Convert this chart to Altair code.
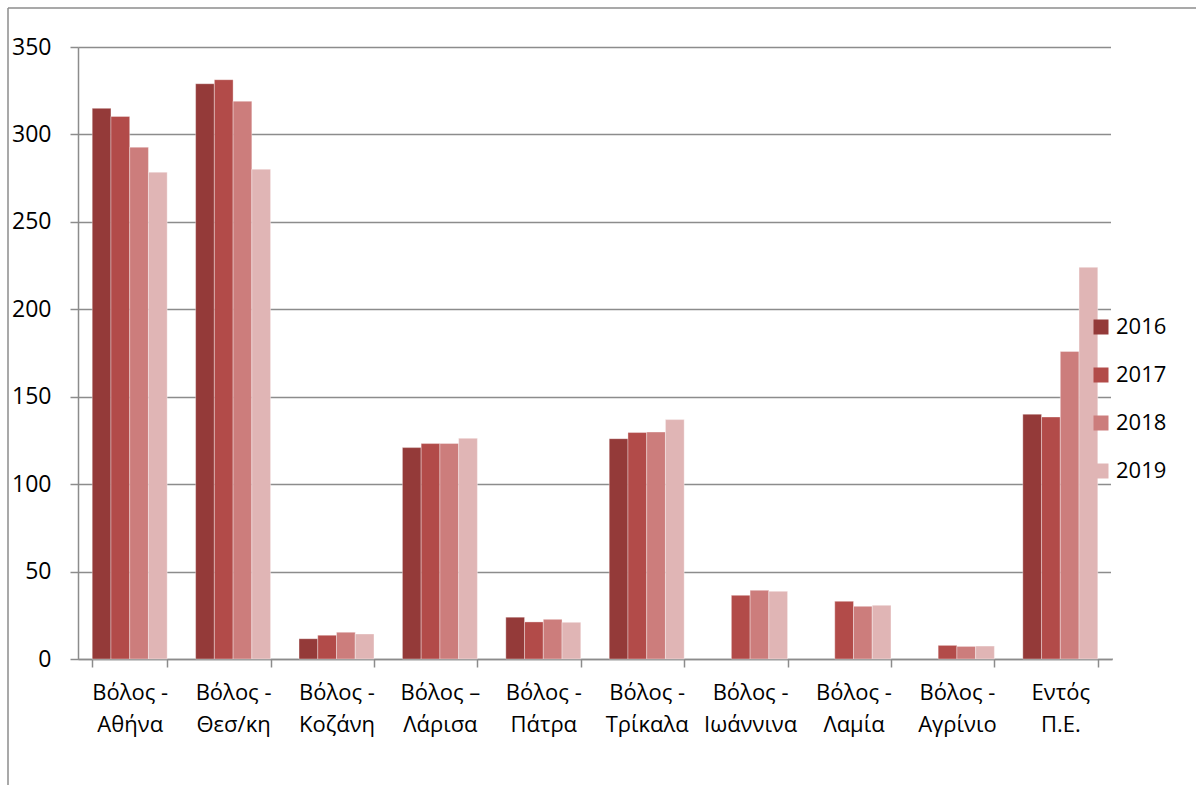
import altair as alt
import pandas as pd

categories = ["Βόλος -|Αθήνα", "Βόλος -|Θεσ/κη", "Βόλος -|Κοζάνη", "Βόλος –|Λάρισα",
              "Βόλος -|Πάτρα", "Βόλος -|Τρίκαλα", "Βόλος -|Ιωάννινα", "Βόλος -|Λαμία",
              "Βόλος -|Αγρίνιο", "Εντός|Π.Ε."]
years = ["2016", "2017", "2018", "2019"]
v2016 = [314.9, 329.0, 11.6, 120.9, 23.9, 126.0, None, None, None, 140.0]
v2017 = [310.3, 331.3, 13.6, 123.2, 21.2, 129.5, 36.4, 33.0, 7.8, 138.4]
v2018 = [292.7, 319.0, 15.3, 123.3, 22.7, 129.8, 39.3, 30.1, 7.2, 175.9]
v2019 = [278.4, 280.1, 14.3, 126.2, 21.0, 136.9, 38.7, 30.7, 7.4, 224.0]
colors = ["#943A39", "#B24B49", "#CC7D7C", "#E0B5B5"]
y_ticks = [0, 50, 100, 150, 200, 250, 300, 350]

rows = []
for yr, vals in zip(years, [v2016, v2017, v2018, v2019]):
    for c, v in zip(categories, vals):
        if v is not None:
            rows.append({"cat": c, "year": yr, "value": v})
df = pd.DataFrame(rows)

FONT = "Open Sans"

bars = alt.Chart(df).mark_bar(stroke="#ffffff", strokeWidth=0.6, strokeOpacity=0.6).encode(
    x=alt.X("cat:N", sort=categories, title=None,
            scale=alt.Scale(paddingInner=0.275, paddingOuter=0.1375),
            axis=alt.Axis(labelAngle=0, labelExpr="split(datum.label, '|')",
                          tickBand="extent", tickSize=8, tickColor="#8c8c8c", tickWidth=1.5,
                          domainColor="#8c8c8c", domainWidth=1.5,
                          labelFontSize=22, labelFont=FONT, labelColor="#000000",
                          labelPadding=15, labelLineHeight=32, labelBaseline="top",
                          grid=False)),
    xOffset=alt.XOffset("year:N", sort=years, scale=alt.Scale(paddingInner=0, paddingOuter=0)),
    y=alt.Y("value:Q", title=None,
            scale=alt.Scale(domain=[0, 350], nice=False),
            axis=alt.Axis(values=y_ticks, tickSize=8, tickColor="#8c8c8c", tickWidth=1.5,
                          domainColor="#8c8c8c", domainWidth=1.5,
                          gridColor="#8c8c8c", gridWidth=1.5,
                          labelFontSize=23, labelFont=FONT, labelColor="#000000",
                          labelPadding=19)),
    color=alt.Color("year:N", sort=years, title=None,
                    scale=alt.Scale(domain=years, range=colors),
                    legend=alt.Legend(orient="none", legendX=1012, legendY=269,
                                      symbolType="square", symbolSize=225,
                                      symbolStrokeWidth=0, labelFontSize=22,
                                      labelFont=FONT, labelColor="#000000",
                                      labelOffset=4, rowPadding=26, padding=0)),
)

one = pd.DataFrame({"a": [0]})
frame_left = alt.Chart(one).mark_rule(
    stroke="#8c8c8c", strokeWidth=1.5, clip=False
).encode(x=alt.value(-70), y=alt.value(-39), y2=alt.value(760))
frame_top = alt.Chart(one).mark_rule(
    stroke="#8c8c8c", strokeWidth=1.5, clip=False
).encode(x=alt.value(-70), x2=alt.value(1130), y=alt.value(-39))
right_cover = alt.Chart(one).mark_rule(
    stroke="#ffffff", strokeWidth=4, clip=False
).encode(x=alt.value(1035), y=alt.value(-2), y2=alt.value(611))

chart = alt.layer(frame_left, frame_top, bars, right_cover).properties(
    width=1034, height=612,
    padding={"left": 78, "top": 47, "right": 84, "bottom": 126},
    autosize=alt.AutoSizeParams(type="none"),
).configure_view(strokeWidth=0, stroke="transparent").configure(background="#ffffff")

chart.save("out.html", embed_options={"renderer": "svg", "actions": False})
